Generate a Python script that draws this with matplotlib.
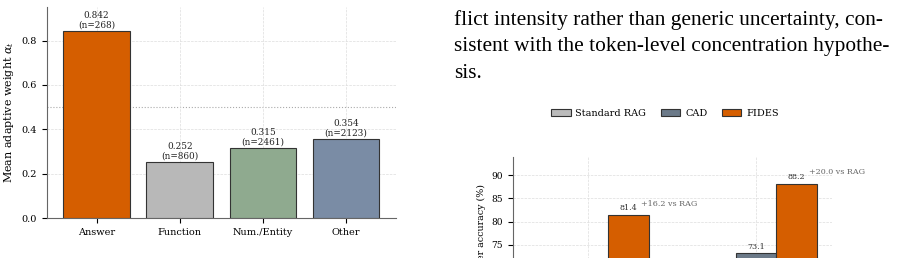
import matplotlib
matplotlib.use("Agg")
import matplotlib.pyplot as plt
import numpy as np

plt.rcParams['font.family'] = 'DejaVu Serif'
plt.rcParams['mathtext.fontset'] = 'dejavuserif'

# left chart: mean adaptive weight per token type
token_types = ['Answer', 'Function', 'Num./Entity', 'Other']
mean_alpha = [0.842, 0.252, 0.315, 0.354]
counts = [268, 860, 2461, 2123]
type_colors = ['#D55E00', '#B8B8B8', '#8FAA8F', '#7A8CA5']

# right chart (partly cut off): answer accuracy per method
groups = ['G1', 'G2']
methods = ['Standard RAG', 'CAD', 'FIDES']
acc_rag = [65.2, 68.2]
acc_cad = [69.5, 73.1]
acc_fides = [81.4, 88.2]
method_colors = ['#BBBBBB', '#6C7A89', '#D55E00']

paragraph = [
    "flict intensity rather than generic uncertainty, con-",
    "sistent with the token-level concentration hypothe-",
    "sis.",
]

fig = plt.figure(figsize=(8.99, 2.58), dpi=100)

# ---- left chart ----
ax = fig.add_axes([0.0519, 0.155, 0.3886, 0.818])
x = np.arange(len(token_types))
ax.bar(x, mean_alpha, width=0.8, color=type_colors, edgecolor='#333333', linewidth=0.8, zorder=3)
for xi, v, n in zip(x, mean_alpha, counts):
    ax.text(xi, v + 0.008, f"{v:.3f}\n(n={n})", ha='center', va='bottom', fontsize=6.4,
            linespacing=1.05, color='#222222')
ax.axhline(0.5, color='#aaaaaa', linestyle=':', linewidth=0.8, zorder=1)
ax.set_xticks(x)
ax.set_xticklabels(token_types, fontsize=7)
ax.set_xlim(-0.6, 3.6)
ax.set_ylim(0, 0.842 * 1.13)
ax.set_yticks([0, 0.2, 0.4, 0.6, 0.8])
ax.tick_params(axis='y', labelsize=7)
ax.set_ylabel(r"Mean adaptive weight $\alpha_t$", fontsize=8)
ax.grid(True, linestyle='--', color='#dddddd', linewidth=0.5, zorder=0)
for s in ['top', 'right']:
    ax.spines[s].set_visible(False)
for s in ['left', 'bottom']:
    ax.spines[s].set_color('#666666')

# ---- paragraph text ----
for i, line in enumerate(paragraph):
    fig.text(454 / 899, 1 - (25 + 26.5 * i) / 258, line, fontsize=15.4,
             family='Liberation Serif', ha='left', va='baseline')

# ---- right chart (extends below the page crop) ----
ax2 = fig.add_axes([0.5703, -0.2175, 0.3548, 0.6101])
gx = np.arange(len(groups))
w = 0.24
series = [acc_rag, acc_cad, acc_fides]
for k, (vals, col, name) in enumerate(zip(series, method_colors, methods)):
    ax2.bar(gx + (k - 1) * w, vals, width=w, color=col, edgecolor='#333333',
            linewidth=0.8, label=name, zorder=3)
for k, vals in enumerate(series):
    for gi, v in zip(gx, vals):
        ax2.text(gi + (k - 1) * w, v + 0.6, f"{v:.1f}", ha='center', va='bottom',
                 fontsize=5.8, color='#333333')
for gi, v, r in zip(gx, acc_fides, acc_rag):
    ax2.text(gi + w + 0.075, v + 1.6, f"+{v - r:.1f} vs RAG", ha='left', va='bottom',
             fontsize=5.8, color='#666666')
ax2.set_xlim(-0.45, 1.45)
ax2.set_ylim(60, 94)
ax2.set_xticks(gx)
ax2.set_xticklabels(groups, fontsize=6.5)
ax2.set_yticks([60, 65, 70, 75, 80, 85, 90])
ax2.tick_params(axis='y', labelsize=6.5)
ax2.set_ylabel("Answer accuracy (%)", fontsize=6.8)
ax2.grid(True, linestyle='--', color='#dddddd', linewidth=0.5, zorder=0)
for s in ['top', 'right']:
    ax2.spines[s].set_visible(False)
for s in ['left', 'bottom']:
    ax2.spines[s].set_color('#666666')
fig.legend(*ax2.get_legend_handles_labels(), loc='center', bbox_to_anchor=(665 / 899, 1 - 113 / 258),
           ncol=3, frameon=False, fontsize=7, handlelength=2.0, handleheight=0.7,
           columnspacing=1.5, handletextpad=0.5)

fig.savefig("out.png", dpi=100)
